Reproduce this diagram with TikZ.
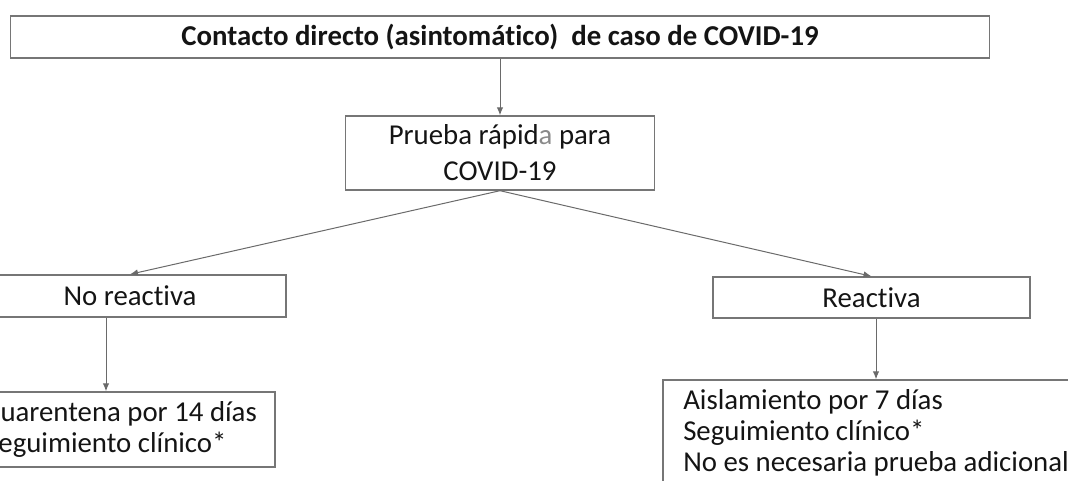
\documentclass[tikz,border=0pt]{standalone}
\usepackage{fontspec}
\setmainfont[Ligatures=NoCommon]{Carlito}
\usetikzlibrary{arrows.meta}

\definecolor{boxgray}{HTML}{767676}
\definecolor{arrowgray}{HTML}{6A6A6A}
\definecolor{txtcol}{HTML}{141414}
\definecolor{fadecol}{HTML}{8A8A8A}

\tikzset{
  box/.style={draw=boxgray, line width=1.4pt, text=txtcol, inner sep=0pt,
    font=\fontsize{28.8pt}{31pt}\selectfont},
  link/.style={draw=arrowgray, line width=1pt, -{Latex[length=8pt,width=6.5pt]}}
}

\begin{document}
\begin{tikzpicture}[x=1pt, y=-1pt]
\useasboundingbox (0,0) rectangle (1068,481);
\clip (0,0) rectangle (1068,481);
\node[box, minimum width=979, minimum height=42, font=\fontsize{28.8pt}{32pt}\selectfont\bfseries] (contacto) at (500,37) {Contacto directo (asintomático)~ de caso de COVID-19};
\node[box, minimum width=309, minimum height=74, align=center, font=\fontsize{28.8pt}{36pt}\selectfont] (prueba) at (500,153) {Prueba rápid\textcolor{fadecol}{a} para\\COVID-19};
\node[box, minimum width=312, minimum height=42] (noreact) at (130,296) {No reactiva};
\node[box, minimum width=317, minimum height=41] (react) at (871.5,297.5) {Reactiva};
\node[box, minimum width=308, minimum height=75, align=left] (cuarentena) at (121,429.5) {Cuarentena por 14 días\\Seguimiento clínico*};
\node[box, minimum width=426, minimum height=106, align=left] (aislamiento) at (876,433) {Aislamiento por 7 días\\Seguimiento clínico*\\No es necesaria prueba adicional};
\coordinate (nrfoot) at ([xshift=-24pt]noreact.south);
% connectors
\draw[link] (contacto.south) -- (prueba.north);
\draw[link] (prueba.south) -- (noreact.north);
\draw[link] (prueba.south) -- (react.north);
\draw[link] (nrfoot) -- (nrfoot |- cuarentena.north);
\draw[link] (react.south -| aislamiento.north) -- (aislamiento.north);
\end{tikzpicture}
\end{document}
